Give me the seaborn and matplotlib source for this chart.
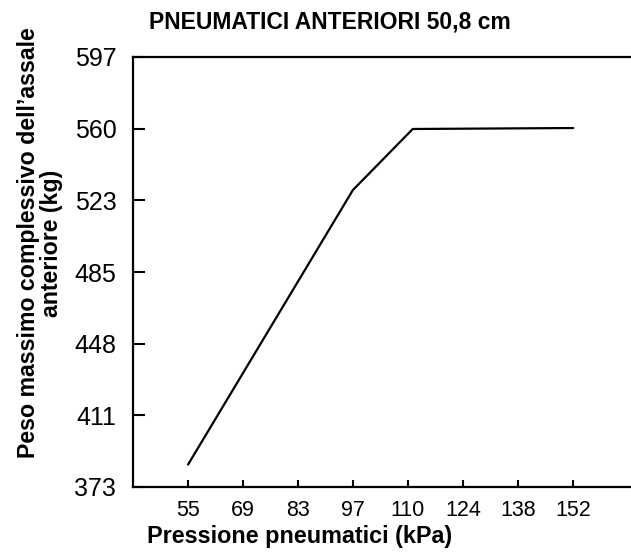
import matplotlib
matplotlib.use("Agg")
import matplotlib.pyplot as plt
import seaborn as sns
import pandas as pd

# Data
pressure_kpa = [55.2, 96.5, 111.5, 151.7]
max_load_kg = [385.0, 528.0, 559.8, 560.3]
x_tick_values = [55.2, 68.9, 82.7, 96.5, 110.3, 124.1, 137.9, 151.7]
x_tick_labels = ["55", "69", "83", "97", "110", "124", "138", "152"]
y_tick_values = [373.3, 410.6, 448.0, 485.3, 522.6, 560.0, 597.3]
y_tick_labels = ["373", "411", "448", "485", "523", "560", "597"]

sns.set_theme(style="white")
plt.rcParams['font.family'] = ['Liberation Sans', 'DejaVu Sans']

df = pd.DataFrame({"p": pressure_kpa, "w": max_load_kg})

fig = plt.figure(figsize=(6.31, 5.52), dpi=100)
ax = fig.add_axes([133/631, 1 - 487/552, 1 - 133/631 + 0.002, (487 - 57)/552])

sns.lineplot(data=df, x="p", y="w", ax=ax, color="black", linewidth=1.6)

ax.set_xlim(41.4, 166.5)
ax.set_ylim(373.3, 597.3)
ax.set_xticks(x_tick_values)
ax.set_xticklabels(x_tick_labels)
ax.set_yticks(y_tick_values)
ax.set_yticklabels(y_tick_labels)
ax.tick_params(axis="both", direction="in", width=1.5, colors="black",
               bottom=True, left=True)
ax.tick_params(axis="x", length=5, pad=9, labelsize=15.5)
ax.tick_params(axis="y", length=8.5, pad=12, labelsize=18)
for side in ["left", "top", "bottom"]:
    ax.spines[side].set_visible(True)
    ax.spines[side].set_color("black")
    ax.spines[side].set_linewidth(1.6)
ax.spines["right"].set_visible(False)
ax.set_xlabel("")
ax.set_ylabel("")

fig.text(330/631, 1 - 22/552, "PNEUMATICI ANTERIORI 50,8 cm", ha="center", va="center",
         fontsize=16.5, fontweight="bold", color="black")
fig.text(300/631, 1 - 537/552, "Pressione pneumatici (kPa)", ha="center", va="center",
         fontsize=16.8, fontweight="bold", color="black")
fig.text(40/631, 1 - 243/552, "Peso massimo complessivo dell\u2019assale\nanteriore (kg)",
         ha="center", va="center", rotation=90, fontsize=16.7, fontweight="bold",
         color="black", linespacing=1.0, multialignment="center")

fig.savefig("out.png", dpi=100)
